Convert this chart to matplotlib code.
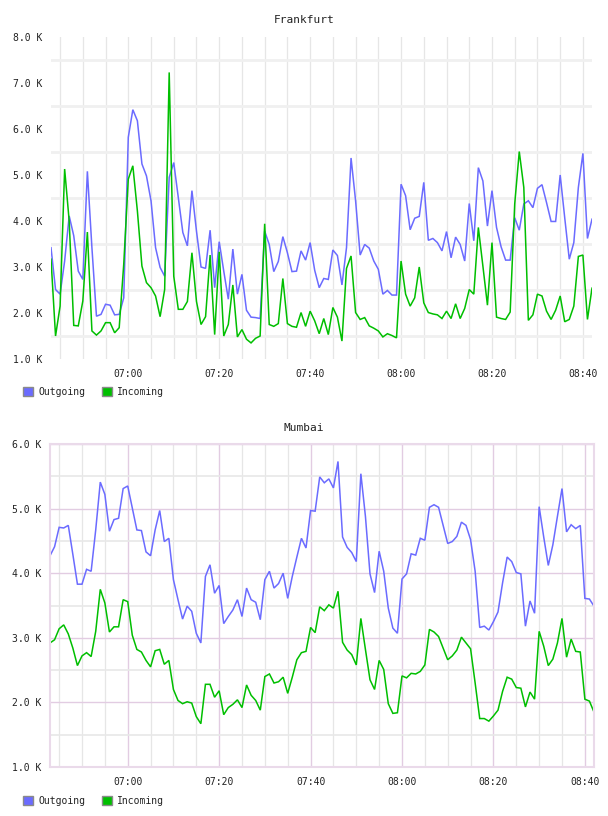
import matplotlib
matplotlib.use("Agg")
import matplotlib.pyplot as plt
import matplotlib.dates as mdates
from matplotlib.ticker import FixedLocator, FuncFormatter
from matplotlib.patches import Patch
import numpy as np
import pandas as pd

# ---------------- data (values in K) ----------------
start_time = "2024-01-01 06:43"
n_points = 120
times = pd.date_range(start_time, periods=n_points, freq="1min")

frankfurt_out = [
    3.42, 2.51, 2.41, 3.13, 4.11, 3.68, 2.91, 2.73, 5.08, 3.42,
    1.93, 1.97, 2.19, 2.17, 1.96, 1.97, 2.33, 5.82, 6.42, 6.18,
    5.24, 4.98, 4.44, 3.42, 2.99, 2.80, 4.95, 5.27, 4.51, 3.75,
    3.46, 4.66, 3.78, 3.00, 2.97, 3.80, 2.55, 3.55, 2.91, 2.30,
    3.39, 2.41, 2.84, 2.06, 1.91, 1.90, 1.88, 3.78, 3.49, 2.90,
    3.12, 3.66, 3.31, 2.90, 2.91, 3.35, 3.15, 3.53, 2.93, 2.55,
    2.75, 2.73, 3.37, 3.25, 2.61, 3.42, 5.37, 4.44, 3.26, 3.49,
    3.41, 3.13, 2.95, 2.41, 2.49, 2.39, 2.39, 4.80, 4.55, 3.81,
    4.06, 4.10, 4.84, 3.58, 3.62, 3.53, 3.35, 3.77, 3.20, 3.65,
    3.49, 3.13, 4.38, 3.57, 5.16, 4.87, 3.89, 4.66, 3.86, 3.44,
    3.15, 3.15, 4.07, 3.80, 4.37, 4.44, 4.29, 4.71, 4.79, 4.40,
    3.99, 3.99, 5.00, 4.07, 3.17, 3.53, 4.73, 5.47, 3.62, 4.04,
]
frankfurt_in = [
    3.17, 1.50, 2.15, 5.13, 4.00, 1.73, 1.72, 2.26, 3.76, 1.61,
    1.52, 1.61, 1.79, 1.79, 1.57, 1.68, 3.06, 4.91, 5.20, 4.22,
    3.02, 2.66, 2.55, 2.37, 1.92, 2.51, 7.23, 2.80, 2.08, 2.08,
    2.25, 3.31, 2.25, 1.75, 1.92, 3.26, 1.53, 3.33, 1.50, 1.75,
    2.61, 1.48, 1.64, 1.43, 1.35, 1.45, 1.50, 3.94, 1.75, 1.71,
    1.77, 2.75, 1.77, 1.71, 1.69, 2.01, 1.71, 2.04, 1.83, 1.55,
    1.88, 1.53, 2.12, 1.91, 1.39, 2.97, 3.24, 2.01, 1.86, 1.90,
    1.72, 1.67, 1.61, 1.48, 1.55, 1.51, 1.46, 3.13, 2.41, 2.15,
    2.33, 3.00, 2.22, 2.01, 1.98, 1.96, 1.88, 2.04, 1.88, 2.20,
    1.88, 2.10, 2.51, 2.41, 3.86, 3.02, 2.17, 3.53, 1.91, 1.88,
    1.86, 2.02, 4.37, 5.51, 4.73, 1.84, 1.96, 2.41, 2.37, 2.04,
    1.86, 2.06, 2.37, 1.81, 1.86, 2.15, 3.23, 3.26, 1.86, 2.54,
]
mumbai_out = [
    4.27, 4.41, 4.71, 4.70, 4.74, 4.29, 3.83, 3.83, 4.06, 4.03,
    4.67, 5.41, 5.22, 4.65, 4.83, 4.85, 5.31, 5.35, 5.01, 4.67,
    4.66, 4.33, 4.27, 4.67, 4.97, 4.49, 4.54, 3.90, 3.59, 3.29,
    3.49, 3.41, 3.07, 2.92, 3.95, 4.13, 3.69, 3.81, 3.22, 3.33,
    3.43, 3.59, 3.33, 3.77, 3.59, 3.55, 3.28, 3.90, 4.03, 3.77,
    3.84, 4.00, 3.61, 3.95, 4.25, 4.54, 4.39, 4.97, 4.96, 5.49,
    5.40, 5.46, 5.32, 5.73, 4.56, 4.40, 4.32, 4.18, 5.54, 4.88,
    3.99, 3.70, 4.34, 4.03, 3.46, 3.15, 3.07, 3.91, 3.99, 4.30,
    4.28, 4.54, 4.51, 5.02, 5.06, 5.02, 4.74, 4.46, 4.49, 4.57,
    4.79, 4.74, 4.52, 4.03, 3.16, 3.18, 3.12, 3.25, 3.40, 3.85,
    4.25, 4.18, 4.01, 3.99, 3.18, 3.57, 3.38, 5.03, 4.56, 4.12,
    4.44, 4.88, 5.31, 4.64, 4.75, 4.69, 4.74, 3.61, 3.60, 3.49,
]
mumbai_in = [
    2.92, 2.97, 3.14, 3.20, 3.06, 2.84, 2.57, 2.72, 2.77, 2.71,
    3.10, 3.75, 3.54, 3.09, 3.17, 3.17, 3.59, 3.56, 3.04, 2.82,
    2.78, 2.65, 2.55, 2.80, 2.82, 2.59, 2.65, 2.20, 2.03, 1.98,
    2.01, 1.99, 1.78, 1.67, 2.28, 2.28, 2.08, 2.18, 1.81, 1.92,
    1.97, 2.04, 1.92, 2.27, 2.11, 2.03, 1.88, 2.40, 2.44, 2.30,
    2.32, 2.39, 2.14, 2.39, 2.66, 2.77, 2.79, 3.16, 3.08, 3.48,
    3.42, 3.51, 3.46, 3.72, 2.93, 2.81, 2.74, 2.58, 3.30, 2.82,
    2.35, 2.20, 2.65, 2.51, 1.98, 1.83, 1.84, 2.41, 2.38, 2.45,
    2.44, 2.48, 2.58, 3.13, 3.09, 3.02, 2.84, 2.66, 2.72, 2.81,
    3.01, 2.92, 2.83, 2.30, 1.75, 1.75, 1.71, 1.79, 1.88, 2.17,
    2.39, 2.36, 2.23, 2.22, 1.93, 2.16, 2.05, 3.10, 2.87, 2.57,
    2.67, 2.92, 3.30, 2.70, 2.98, 2.79, 2.78, 2.05, 2.02, 1.85,
]

series_names = ["Outgoing", "Incoming"]
series_colors = ["#6b6bff", "#00bf00"]
titles = ["Frankfurt", "Mumbai"]
frankfurt_ylim = (1.0, 8.0)
mumbai_ylim = (1.0, 6.0)

# ---------------- figure ----------------
W, H = 608, 816
fig = plt.figure(figsize=(W / 100, H / 100), dpi=100)
MONO = "DejaVu Sans Mono"


def px_axes(l, t, r, b):
    return fig.add_axes([l / W, 1 - b / H, (r - l) / W, (b - t) / H])


def kfmt(v, pos):
    return f"{v:.1f} K"


def common(ax, ylim, title, title_y):
    ax.set_xlim(times[0], times[-1])
    ax.set_ylim(*ylim)
    ax.xaxis.set_major_locator(mdates.MinuteLocator(byminute=[0, 20, 40]))
    ax.xaxis.set_minor_locator(mdates.MinuteLocator(byminute=range(0, 60, 5)))
    ax.xaxis.set_major_formatter(mdates.DateFormatter("%H:%M"))
    ax.yaxis.set_major_locator(FixedLocator(np.arange(ylim[0], ylim[1] + 0.01, 1.0)))
    ax.yaxis.set_minor_locator(FixedLocator(np.arange(ylim[0] + 0.5, ylim[1], 1.0)))
    ax.yaxis.set_major_formatter(FuncFormatter(kfmt))
    ax.tick_params(which="both", length=0)
    ax.tick_params(axis="x", pad=7, labelsize=7)
    ax.tick_params(axis="y", pad=6, labelsize=7)
    for lab in ax.get_xticklabels() + ax.get_yticklabels():
        lab.set_family(MONO)
        lab.set_color("#222222")
    ax.set_axisbelow(True)
    fig.text(0.5, 1 - title_y / H, title, ha="center", va="center",
             family=MONO, fontsize=8, color="#222222")


def draw_lines(ax, out_vals, in_vals):
    for vals, c in zip([out_vals, in_vals], series_colors):
        ax.plot(times, vals, color=c, lw=1.1, solid_joinstyle="miter")


def legend(y_px):
    handles = [Patch(facecolor=c, edgecolor="#8a8a8a", linewidth=1.0, label=nm)
               for nm, c in zip(series_names, series_colors)]
    leg = fig.legend(handles=handles, loc="upper left",
                     bbox_to_anchor=(23 / W, 1 - y_px / H), ncol=2,
                     frameon=False, borderpad=0, borderaxespad=0,
                     handlelength=1.05, handleheight=1.05, handletextpad=0.5,
                     columnspacing=1.7, prop={"family": MONO, "size": 7})
    for t in leg.get_texts():
        t.set_color("#222222")


# ---- Frankfurt ----
ax1 = px_axes(51, 37, 592, 359)
common(ax1, frankfurt_ylim, titles[0], 20)
for s in ax1.spines.values():
    s.set_visible(False)
ax1.grid(which="minor", axis="y", color="#f0f0f0", lw=2.0)
ax1.grid(which="major", axis="y", visible=False)
ax1.grid(which="both", axis="x", color="#e6e6e6", lw=0.9)
draw_lines(ax1, frankfurt_out, frankfurt_in)
legend(387)

# ---- Mumbai ----
ax2 = px_axes(50, 444, 594, 767)
common(ax2, mumbai_ylim, titles[1], 428)
pink = "#e2cce2"
for s in ax2.spines.values():
    s.set_color("#eadaea")
    s.set_linewidth(1.5)
ax2.grid(which="major", axis="y", color=pink, lw=1.0)
ax2.grid(which="minor", axis="y", color="#e8e8e8", lw=1.2)
ax2.grid(which="major", axis="x", color=pink, lw=1.0)
ax2.grid(which="minor", axis="x", color="#e6e6e6", lw=0.9)
draw_lines(ax2, mumbai_out, mumbai_in)
legend(796)

fig.savefig("out.png", dpi=100)
